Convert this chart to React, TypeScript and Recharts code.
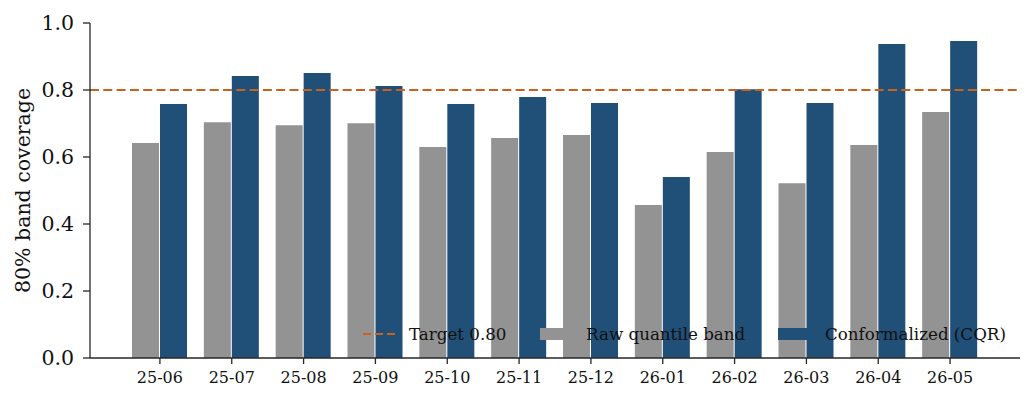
import { BarChart, Bar, XAxis, YAxis, ReferenceLine } from 'recharts';

const months = ['25-06', '25-07', '25-08', '25-09', '25-10', '25-11', '25-12', '26-01', '26-02', '26-03', '26-04', '26-05'];
const rawBand = [0.642, 0.704, 0.695, 0.701, 0.63, 0.657, 0.666, 0.457, 0.615, 0.522, 0.636, 0.734];
const cqr = [0.758, 0.842, 0.851, 0.812, 0.758, 0.779, 0.761, 0.54, 0.802, 0.761, 0.937, 0.946];
const yTicks = [0, 0.2, 0.4, 0.6, 0.8, 1.0];
const target = 0.8;

const GRAY = '#939393';
const BLUE = '#204f78';
const ORANGE = '#c8621c';
const INK = '#262626';
const FONT = '"DejaVu Serif", serif';

const data = months.map((m, i) => ({ month: m, raw: rawBand[i], cqr: cqr[i] }));

// legend sits inside the plot, lower right, no frame
function LegendBox() {
  const text = { position: 'absolute' as const, top: 0, fontSize: 16.7, fontFamily: FONT, color: '#111', lineHeight: '20px', whiteSpace: 'nowrap' as const };
  return (
    <div style={{ position: 'absolute', left: 0, top: 324, width: 1035, height: 20, pointerEvents: 'none' }}>
      <svg style={{ position: 'absolute', left: 363, top: 0 }} width={34} height={20}>
        <line x1={0} y1={10} x2={34} y2={10} stroke={ORANGE} strokeWidth={2} strokeDasharray="8 4" />
      </svg>
      <span style={{ ...text, left: 409 }}>Target 0.80</span>
      <div style={{ position: 'absolute', left: 540, top: 4, width: 33, height: 12, background: GRAY }} />
      <span style={{ ...text, left: 586 }}>Raw quantile band</span>
      <div style={{ position: 'absolute', left: 778, top: 4, width: 33, height: 12, background: BLUE }} />
      <span style={{ ...text, left: 825 }}>Conformalized (CQR)</span>
    </div>
  );
}

export default function App() {
  return (
    <div style={{ position: 'relative', width: 1035, height: 405, background: '#fff', fontFamily: FONT }}>
      <style>{`body{margin:0}`}</style>
      <BarChart
        width={1035}
        height={405}
        data={data}
        margin={{ top: 23, right: 15, left: 0, bottom: 0 }}
        barSize={27}
        barGap={1}
      >
        <XAxis
          dataKey="month"
          padding={{ left: 34, right: 34 }}
          height={47}
          axisLine={{ stroke: INK, strokeWidth: 1.3 }}
          tickLine={{ stroke: INK, strokeWidth: 1.3 }}
          tickSize={6}
          tickMargin={8}
          interval={0}
          tick={{ fill: '#111', fontSize: 16, fontFamily: FONT }}
        />
        <YAxis
          width={90}
          domain={[0, 1]}
          ticks={yTicks}
          tickFormatter={(v) => Number(v).toFixed(1)}
          axisLine={{ stroke: INK, strokeWidth: 1.3 }}
          tickLine={{ stroke: INK, strokeWidth: 1.3 }}
          tickSize={7}
          tickMargin={9}
          tick={{ fill: '#111', fontSize: 20.5, fontFamily: FONT }}
          label={{
            content: ({ viewBox }: any) => {
              const cx = 23;
              const cy = viewBox.y + viewBox.height / 2;
              return (
                <text
                  x={cx}
                  y={cy}
                  transform={`rotate(-90 ${cx} ${cy})`}
                  textAnchor="middle"
                  dominantBaseline="central"
                  fontSize={20.5}
                  fontFamily={FONT}
                  fill="#111"
                >
                  80% band coverage
                </text>
              );
            },
          }}
        />
        <Bar dataKey="raw" name="Raw quantile band" fill={GRAY} isAnimationActive={false} />
        <Bar dataKey="cqr" name="Conformalized (CQR)" fill={BLUE} isAnimationActive={false} />
        <ReferenceLine y={target} stroke={ORANGE} strokeWidth={2} strokeDasharray="9 4.3" ifOverflow="extendDomain" />
      </BarChart>
      <LegendBox />
    </div>
  );
}
